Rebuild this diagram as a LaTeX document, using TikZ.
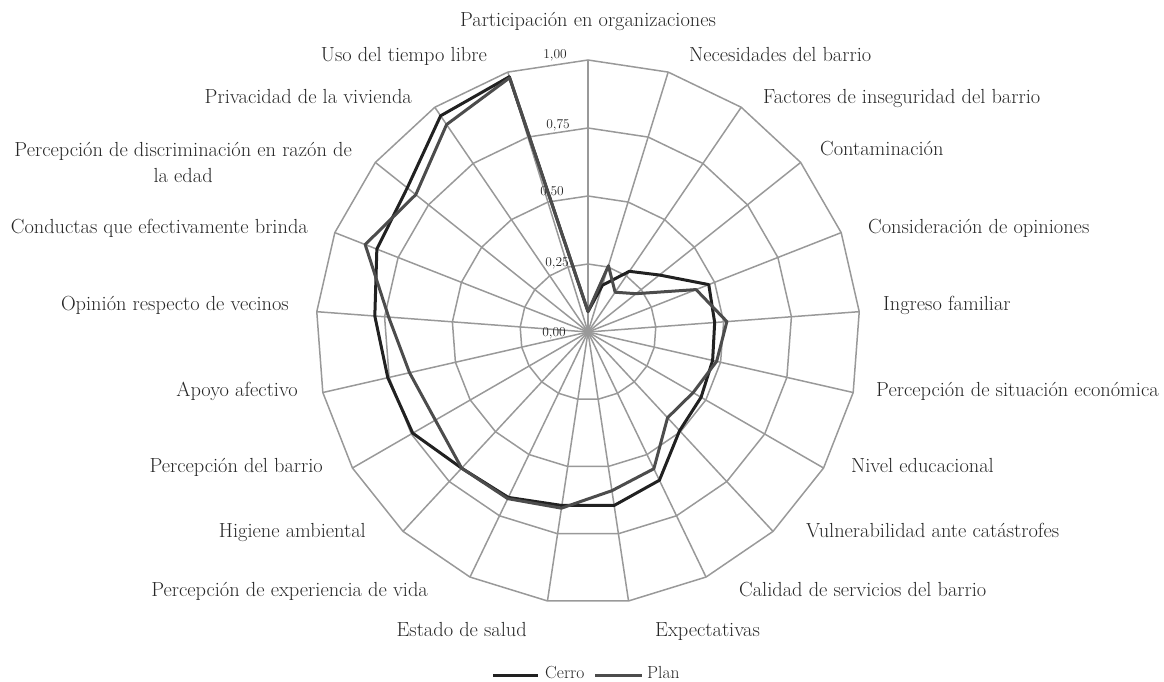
\documentclass[tikz,border=0pt]{standalone}
\usepackage{fontspec}
\begin{document}
\begin{tikzpicture}[x=1pt,y=-1pt,
  lbl/.style={font=\fontsize{20.4}{26.7}\selectfont, inner sep=0pt, text=black!85},
  leglbl/.style={font=\fontsize{17.5}{19}\selectfont, inner sep=0pt, text=black!85, anchor=base west},
  ticklbl/.style={font=\fontsize{13.5}{15}\selectfont, inner sep=0pt, text=black!85, anchor=east},
  gridline/.style={draw=black!40, line width=1.5pt},
  cerroline/.style={draw=black!87, line width=3pt, line join=round},
  planline/.style={draw=black!70, line width=3pt, line join=round}]
\useasboundingbox (0,0) rectangle (1164,682);
\coordinate (ctr) at (588,332);
% grid rings
\foreach \lv in {0.25,0.5,0.75,1}
  \draw[gridline] plot[samples at={0,...,20}] ({588+\lv*272*sin(\x*360/21)},{332-\lv*272*cos(\x*360/21)}) -- cycle;
% spokes
\foreach \i in {0,...,20} {
  \coordinate (O\i) at ({588+272*sin(\i*360/21)},{332-272*cos(\i*360/21)});
  \draw[gridline] (ctr) -- (O\i);
}
% tick labels
\node[ticklbl] (t100) at (567,55) {1,00};
\node[ticklbl] (t075) at (570,125) {0,75};
\node[ticklbl] (t050) at (564,192) {0,50};
\node[ticklbl] (t025) at (569,263) {0,25};
\node[ticklbl] (t000) at (566,333) {0,00};
% data
\foreach \v [count=\i from 0] in {0.075,0.18,0.27,0.336,0.477,0.467,0.47,0.48,0.495,0.605,0.645,0.645,0.675,0.683,0.744,0.755,0.786,0.834,0.85,0.962,0.982}
  \coordinate (C\i) at ({588+\v*272*sin(\i*360/21)},{332-\v*272*cos(\i*360/21)});
\foreach \v [count=\i from 0] in {0.075,0.255,0.177,0.226,0.427,0.512,0.485,0.446,0.43,0.558,0.59,0.655,0.68,0.683,0.648,0.673,0.735,0.88,0.81,0.923,0.978}
  \coordinate (P\i) at ({588+\v*272*sin(\i*360/21)},{332-\v*272*cos(\i*360/21)});
\draw[cerroline] (C0) \foreach \i in {1,...,20} {-- (C\i)} -- cycle;
\draw[planline] (P0) \foreach \i in {1,...,20} {-- (P\i)} -- cycle;
% axis labels
\node[lbl, anchor=base] (a1) at (588,26.5) {Participación en organizaciones};
\node[lbl, anchor=base west] (a2) at (689,61.7) {Necesidades del barrio};
\node[lbl, anchor=base west] (a3) at (763,103.3) {Factores de inseguridad del barrio};
\node[lbl, anchor=base west] (a4) at (820,155) {Contaminación};
\node[lbl, anchor=base west] (a5) at (868,233.3) {Consideración de opiniones};
\node[lbl, anchor=base west] (a6) at (883,310) {Ingreso familiar};
\node[lbl, anchor=base west] (a7) at (876,396) {Percepción de situación económica};
\node[lbl, anchor=base west] (a8) at (851,472.7) {Nivel educacional};
\node[lbl, anchor=base west] (a9) at (806,537.7) {Vulnerabilidad ante catástrofes};
\node[lbl, anchor=base west] (a10) at (739,596.7) {Calidad de servicios del barrio};
\node[lbl, anchor=base west] (a11) at (655,636) {Expectativas};
\node[lbl, anchor=base east] (a12) at (527,636) {Estado de salud};
\node[lbl, anchor=base east] (a13) at (428,596.7) {Percepción de experiencia de vida};
\node[lbl, anchor=base east] (a14) at (366,537.7) {Higiene ambiental};
\node[lbl, anchor=base east] (a15) at (323,472.7) {Percepción del barrio};
\node[lbl, anchor=base east] (a16) at (298,396) {Apoyo afectivo};
\node[lbl, anchor=base east] (a17) at (289,310) {Opinión respecto de vecinos};
\node[lbl, anchor=base east] (a18) at (308,233.3) {Conductas que efectivamente brinda};
\node[lbl, anchor=base east, align=center] (a19) at (352,182.7) {Percepción de discriminación en razón de\\la edad};
\node[lbl, anchor=base east] (a20) at (412,103.3) {Privacidad de la vivienda};
\node[lbl, anchor=base east] (a21) at (487,61.7) {Uso del tiempo libre};
% legend
\coordinate (LCa) at (493,675);
\coordinate (LCb) at (538,675);
\coordinate (LPa) at (595,675);
\coordinate (LPb) at (642,675);
\draw[cerroline] (LCa) -- (LCb);
\draw[planline] (LPa) -- (LPb);
\node[leglbl] (legC) at (545,678.5) {Cerro};
\node[leglbl] (legP) at (647,678.5) {Plan};
\end{tikzpicture}
\end{document}
